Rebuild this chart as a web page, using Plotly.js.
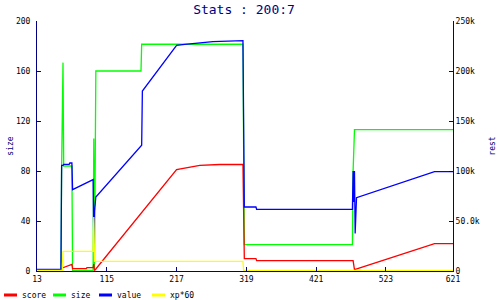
<!DOCTYPE html>
<html>
<head>
<meta charset="utf-8">
<script src="https://cdn.plot.ly/plotly-3.0.1.min.js"></script>
<style>html,body{margin:0;padding:0;background:#fff;}#chart{width:500px;height:300px;}</style>
</head>
<body>
<div id="chart"></div>
<script>
// ---- data ----
const seriesNames = ['score', 'size', 'value', 'xp*60'];

const scoreX = [13, 48, 49, 50, 64, 65, 85, 86, 95, 96, 97, 99, 217, 251, 280, 314, 315, 316, 333, 334, 475, 477, 594, 621];
const scoreY = [300, 300, 2000, 3000, 6500, 2400, 2400, 3400, 3400, 7000, 500, 2000, 101400, 105700, 106500, 106500, 60000, 12400, 12400, 10400, 10400, 1400, 27400, 27400];

const sizeX = [13, 48, 49, 50, 51, 52, 64, 65, 95, 96, 97, 99, 165, 166, 314, 315, 316, 474, 475, 477, 621];
const sizeY = [0.3, 0.3, 84, 166.7, 166.7, 84, 84, 0.5, 0.5, 106, 2, 160, 160, 181.4, 181.4, 100, 21.1, 21.1, 80, 113.1, 113.1];

const valueX = [13, 48, 49, 51, 52, 60, 61, 64, 65, 95, 96, 97, 99, 166, 167, 217, 229, 255, 270, 314, 315, 316, 333, 334, 474, 475, 476, 477, 478, 479, 480, 594, 621];
const valueY = [1700, 1700, 105700, 105700, 106700, 106700, 108000, 108000, 81400, 91400, 27000, 60000, 74000, 125700, 180000, 225700, 226700, 228000, 229400, 230400, 140000, 64000, 64000, 61700, 61700, 100000, 69000, 100000, 37500, 56000, 73400, 99400, 99400];

const xpX = [13, 50, 51, 95, 96, 97, 314, 315, 621];
const xpY = [500, 500, 19700, 19700, 54000, 9700, 9700, 500, 500];

const xTickVals = [13, 115, 217, 319, 421, 523, 621];
const leftTickVals = [0, 40, 80, 120, 160, 200];
const leftTickText = ['0', '40', '80', '120', '160', '200'];
const rightTickVals = [0, 50000, 100000, 150000, 200000, 250000];
const rightTickText = ['0', '50.0k', '100k', '150k', '200k', '250k'];

// ---- styling ----
const colors = ['#ff0000', '#00ff00', '#0000ff', '#ffff00'];
const navy = '#000080';
const mono = 'DejaVu Sans Mono, Liberation Mono, monospace';
const LW = 1.3;

const traces = [
  {x: scoreX, y: scoreY, yaxis: 'y2', name: seriesNames[0]},
  {x: sizeX, y: sizeY, yaxis: 'y', name: seriesNames[1]},
  {x: valueX, y: valueY, yaxis: 'y2', name: seriesNames[2]},
  {x: xpX, y: xpY, yaxis: 'y2', name: seriesNames[3]}
].map((t, i) => Object.assign(t, {
  type: 'scatter', mode: 'lines', line: {color: colors[i], width: LW, shape: 'linear'},
  showlegend: false, hoverinfo: 'skip'
}));

// plot area geometry (px)
const M = {l: 37, r: 47, t: 21, b: 29};
const W = 500 - M.l - M.r, H = 300 - M.t - M.b;
const px2x = px => (px - M.l) / W;
const py2y = py => (300 - M.b - py) / H;

// custom legend (short line samples like the original)
const legLineStart = [4, 53, 99, 152];
const legLineLen = 13;
const legY = 295;
const shapes = [], annotations = [];
seriesNames.forEach((n, i) => {
  shapes.push({type: 'line', xref: 'paper', yref: 'paper',
    x0: px2x(legLineStart[i]), x1: px2x(legLineStart[i] + legLineLen),
    y0: py2y(legY), y1: py2y(legY), line: {color: colors[i], width: 3}});
  annotations.push({xref: 'paper', yref: 'paper', x: px2x(legLineStart[i] + legLineLen + 3),
    y: py2y(legY), xanchor: 'left', yanchor: 'middle', showarrow: false, text: n,
    font: {family: mono, size: 8, color: '#000000'}});
});

const axisCommon = {
  showgrid: false, zeroline: false, showline: true, linecolor: navy, linewidth: 1,
  ticks: 'inside', ticklen: 4, tickwidth: 1, tickcolor: navy,
  tickfont: {family: mono, size: 8, color: '#000000'}, automargin: false, fixedrange: true
};

const layout = {
  width: 500, height: 300, margin: M,
  paper_bgcolor: '#ffffff', plot_bgcolor: '#ffffff',
  showlegend: false,
  title: {text: 'Stats : 200:7', font: {family: mono, size: 13, color: navy, weight: 'normal'},
    x: 0.488, xref: 'container', xanchor: 'center', y: 1 - 9 / 300, yref: 'container', yanchor: 'middle'},
  xaxis: Object.assign({}, axisCommon, {range: [13, 621], tickmode: 'array', tickvals: xTickVals,
    ticktext: xTickVals.map(String)}),
  yaxis: Object.assign({}, axisCommon, {range: [0, 200], tickmode: 'array', tickvals: leftTickVals,
    ticktext: leftTickText, ticklabelstandoff: 4,
    title: {text: 'size', font: {family: mono, size: 8, color: navy}, standoff: 1}}),
  yaxis2: Object.assign({}, axisCommon, {range: [0, 250000], overlaying: 'y', side: 'right',
    tickmode: 'array', tickvals: rightTickVals, ticktext: rightTickText,
    title: {text: 'rest', font: {family: mono, size: 8, color: navy}, standoff: 10}}),
  shapes: shapes, annotations: annotations
};

Plotly.newPlot('chart', traces, layout, {displayModeBar: false, staticPlot: true});
</script>
</body>
</html>
